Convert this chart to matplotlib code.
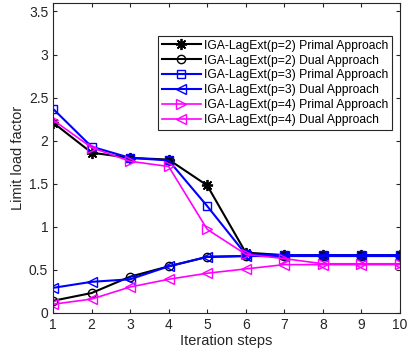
import matplotlib
matplotlib.use('Agg')
import matplotlib.pyplot as plt

plt.rcParams['font.family'] = ['Liberation Sans', 'DejaVu Sans']

steps = [1, 2, 3, 4, 5, 6, 7, 8, 9, 10]
p2_primal = [2.21, 1.86, 1.80, 1.78, 1.48, 0.70, 0.67, 0.67, 0.67, 0.67]
p2_dual = [0.14, 0.23, 0.42, 0.54, 0.65, 0.66, 0.66, 0.66, 0.66, 0.66]
p3_primal = [2.37, 1.93, 1.80, 1.77, 1.24, 0.68, 0.67, 0.67, 0.67, 0.67]
p3_dual = [0.29, 0.36, 0.39, 0.54, 0.65, 0.66, 0.66, 0.66, 0.66, 0.66]
p4_primal = [2.24, 1.92, 1.76, 1.70, 0.97, 0.68, 0.63, 0.57, 0.57, 0.57]
p4_dual = [0.10, 0.16, 0.30, 0.39, 0.46, 0.51, 0.56, 0.56, 0.56, 0.56]

labels = ['IGA-LagExt(p=2) Primal Approach', 'IGA-LagExt(p=2) Dual Approach',
          'IGA-LagExt(p=3) Primal Approach', 'IGA-LagExt(p=3) Dual Approach',
          'IGA-LagExt(p=4) Primal Approach', 'IGA-LagExt(p=4) Dual Approach']

fig = plt.figure(figsize=(4.11, 3.6), dpi=100)
ax = fig.add_axes([0.129, 0.131, 0.844, 0.861])

mfc = 'none'
ax.plot(steps, p2_primal, '-', marker=(8, 2, 0), color='black', lw=1.5, ms=8, mew=1.3, label=labels[0])
ax.plot(steps, p2_dual, '-o', color='black', lw=1.5, ms=6, mfc=mfc, label=labels[1])
ax.plot(steps, p3_primal, '-s', color='blue', lw=1.5, ms=6, mfc=mfc, label=labels[2])
ax.plot(steps, p3_dual, '-<', color='blue', lw=1.5, ms=7, mfc=mfc, label=labels[3])
ax.plot(steps, p4_primal, '->', color='magenta', lw=1.2, ms=7, mfc=mfc, label=labels[4])
ax.plot(steps, p4_dual, '-<', color='magenta', lw=1.2, ms=7, mfc=mfc, label=labels[5])

ax.set_xlim(1, 10)
ax.set_ylim(0, 3.6)
ax.set_xticks(steps)
ax.set_yticks([0, 0.5, 1, 1.5, 2, 2.5, 3, 3.5])
ax.set_yticklabels(['0', '0.5', '1', '1.5', '2', '2.5', '3', '3.5'])
ax.tick_params(direction='in', top=True, right=True, labelsize=10, colors='#262626', length=3)
for s in ax.spines.values():
    s.set_color('#262626')
    s.set_linewidth(0.8)

ax.set_xlabel('Iteration steps', fontsize=10.5, color='#262626', labelpad=2)
ax.set_ylabel('Limit load factor', fontsize=10.5, color='#262626', labelpad=3)

leg = ax.legend(loc='upper right', bbox_to_anchor=(0.978, 0.893), fontsize=8.7,
                fancybox=False, framealpha=1, edgecolor='#262626',
                handlelength=3.2, handletextpad=0.3, labelspacing=0.24,
                borderpad=0.3, borderaxespad=0)
leg.get_frame().set_linewidth(0.8)

fig.savefig('out.png', dpi=100)
